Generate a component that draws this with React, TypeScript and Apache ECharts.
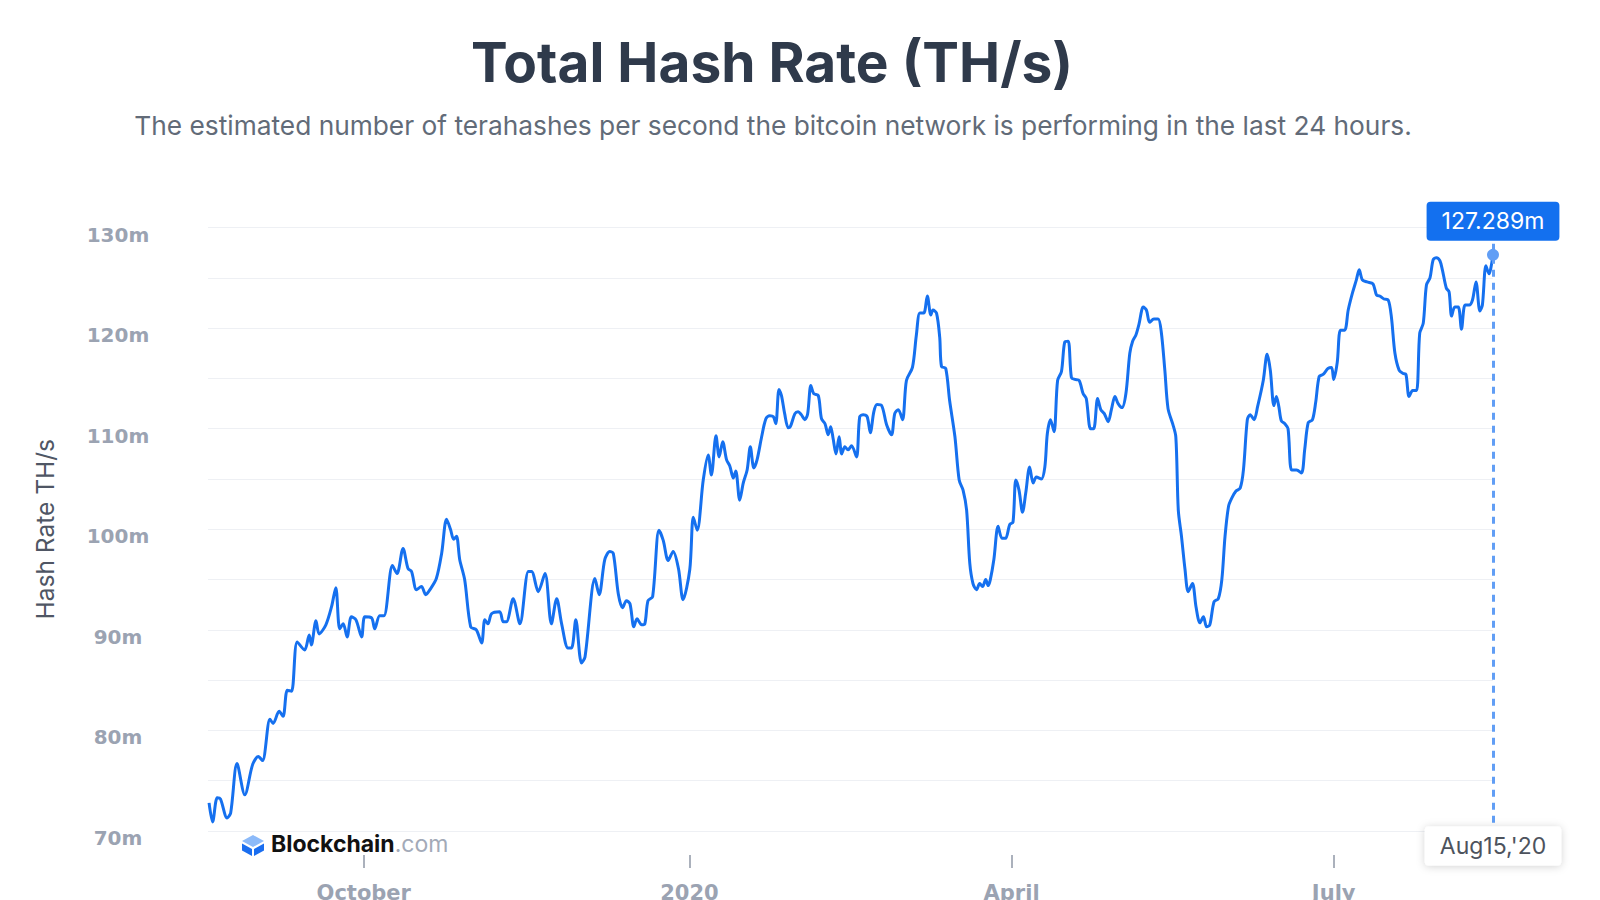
import React, { useEffect, useRef } from "react";
import * as echarts from "echarts";

// Days since 2019-08-18 (UTC) and hash rate in millions of TH/s
const START_DATE = Date.UTC(2019, 7, 18);
const END_DAY = 363; // Aug 15, 2020

const dayOffsets: number[] = [
  0.3, 1.3, 2.6, 3.5, 5.4, 6.4, 8.2, 10.4, 12.6, 14.2, 15.4, 17.5, 18.4, 20.1, 21.2, 22.4, 23.6, 25.2, 27.3, 28.6,
  29.2, 30.5, 31.4, 33.3, 34.9, 36.1, 37.2, 38.2, 39.3, 40.5, 41.8, 43.4, 44.3, 46.2, 47.1, 48.5, 49.7, 52.1, 53.4, 55.1,
  56.5, 57.5, 58.9, 60.3, 61.5, 62.7, 64.5, 66.0, 67.4, 68.5, 69.4, 70.2, 71.1, 72.5, 74.2, 75.8, 77.3, 78.2, 79.1, 80.1,
  82.4, 83.4, 84.3, 86.2, 88.1, 90.5, 91.4, 93.3, 95.2, 97.0, 98.5, 99.9, 101.7, 102.7, 103.9, 105.5, 106.5, 109.3, 110.5, 112.1,
  113.5, 114.5, 115.9, 117.1, 118.2, 119.2, 120.3, 121.2, 122.5, 123.4, 124.3, 125.6, 127.4, 128.6, 130.0, 131.4, 132.9, 134.2, 136.1, 137.1,
  138.2, 139.9, 141.3, 142.2, 143.5, 144.4, 145.4, 146.5, 147.4, 148.4, 149.1, 150.2, 151.2, 152.3, 153.2, 154.2, 155.1, 156.4, 157.6, 158.7,
  159.7, 160.4, 161.3, 162.0, 162.9, 163.9, 164.5, 165.8, 166.7, 167.6, 168.6, 169.4, 170.3, 171.1, 172.4, 173.3, 174.3, 175.2, 175.9, 176.6,
  177.4, 178.3, 179.0, 179.9, 180.8, 181.8, 183.2, 184.1, 185.1, 186.2, 187.1, 188.1, 189.0, 190.3, 191.7, 193.1, 194.0, 195.0, 196.2, 197.3,
  199.0, 200.1, 201.1, 202.2, 203.2, 204.2, 204.8, 205.8, 206.7, 207.2, 208.4, 209.5, 211.0, 212.2, 213.3, 214.3, 215.2, 216.1, 217.1, 218.0,
  218.8, 219.7, 220.4, 221.0, 222.0, 223.2, 224.3, 225.3, 226.5, 227.4, 228.2, 229.1, 230.1, 231.0, 232.1, 233.1, 234.0, 235.4, 236.4, 237.1,
  238.0, 239.0, 240.0, 241.1, 242.0, 243.0, 243.9, 244.9, 246.1, 247.2, 248.1, 249.3, 250.2, 251.3, 252.2, 253.2, 254.3, 255.2, 256.2, 257.1,
  258.2, 259.3, 260.4, 261.2, 262.1, 263.0, 264.2, 265.1, 266.0, 267.2, 268.4, 269.3, 270.3, 271.2, 272.5, 273.4, 274.1, 275.0, 276.0, 276.9,
  278.1, 279.1, 280.2, 281.2, 282.1, 283.0, 284.2, 285.4, 286.4, 287.3, 288.3, 289.2, 290.4, 291.6, 292.5, 293.6, 294.4, 295.5, 296.5, 298.1,
  299.2, 300.1, 301.1, 301.8, 302.5, 303.2, 304.2, 305.1, 306.1, 307.5, 308.9, 309.8, 310.8, 312.0, 312.9, 313.9, 315.0, 316.4, 317.4, 318.0,
  319.0, 319.9, 321.1, 322.1, 323.3, 324.4, 325.2, 326.1, 327.4, 329.1, 330.1, 331.0, 332.2, 333.4, 334.3, 335.3, 336.5, 337.6, 338.4, 339.3,
  340.3, 341.4, 342.3, 343.3, 344.2, 345.2, 346.1, 347.0, 348.0, 348.7, 349.8, 350.6, 351.3, 352.2, 353.2, 354.1, 355.1, 356.3, 357.2, 358.2,
  359.3, 360.0, 361.0, 361.9, 362.4, 363.0,
];

const hashRate: number[] = [
  72.8, 70.9, 73.3, 73.2, 71.3, 71.8, 76.7, 73.6, 76.6, 77.4, 77.0, 81.1, 80.7, 81.9, 81.4, 84.0, 83.9, 88.8, 88.0, 89.5,
  88.5, 90.9, 89.6, 90.5, 92.3, 94.2, 90.1, 90.6, 89.3, 91.3, 91.0, 89.3, 91.3, 91.2, 90.1, 91.4, 91.4, 96.4, 95.6, 98.1,
  96.1, 95.8, 94.0, 94.3, 93.5, 94.0, 95.1, 97.6, 101.0, 100.0, 99.0, 99.3, 97.0, 95.0, 90.3, 90.0, 88.7, 91.0, 90.6, 91.6,
  91.8, 90.8, 90.8, 93.1, 90.6, 95.8, 95.8, 93.8, 95.6, 90.6, 93.1, 90.6, 88.2, 88.2, 91.0, 86.7, 87.3, 95.1, 93.5, 97.0,
  97.8, 97.6, 93.6, 92.2, 92.9, 92.6, 90.3, 91.1, 90.5, 90.6, 92.9, 93.3, 99.9, 98.9, 96.9, 97.8, 96.1, 93.0, 96.0, 101.2,
  99.9, 104.9, 107.4, 105.4, 109.3, 107.2, 108.7, 106.9, 106.3, 105.1, 105.8, 102.9, 104.6, 105.9, 108.2, 106.1, 106.9, 109.2, 111.0, 111.3,
  111.2, 110.5, 113.9, 113.3, 111.5, 110.1, 110.2, 111.5, 111.7, 111.4, 110.9, 111.5, 114.3, 113.5, 113.3, 111.0, 110.5, 109.4, 110.2, 109.0,
  107.5, 109.2, 107.5, 108.2, 107.9, 108.3, 107.2, 111.2, 111.4, 111.2, 109.6, 111.7, 112.4, 112.3, 110.4, 109.4, 111.5, 111.9, 110.9, 114.8,
  116.1, 119.3, 121.5, 121.5, 123.2, 121.3, 121.8, 121.5, 119.1, 116.2, 116.0, 112.8, 109.2, 104.9, 103.9, 101.9, 96.6, 94.6, 94.0, 94.6,
  94.3, 95.0, 94.4, 95.0, 97.0, 100.3, 99.1, 99.1, 100.5, 100.7, 104.9, 103.9, 101.7, 103.6, 106.2, 104.6, 105.2, 105.0, 106.2, 109.5,
  110.9, 109.7, 114.8, 115.7, 118.6, 118.7, 115.1, 114.9, 114.8, 113.5, 113.0, 110.0, 110.0, 113.0, 111.9, 111.5, 110.7, 111.9, 113.2, 112.5,
  112.1, 113.5, 117.5, 118.7, 119.3, 120.4, 122.1, 121.8, 120.6, 120.9, 120.9, 119.6, 115.8, 112.0, 110.5, 109.2, 101.9, 99.3, 96.0, 93.8,
  94.6, 92.3, 90.7, 91.3, 90.3, 90.5, 92.8, 93.1, 95.0, 99.3, 102.3, 103.1, 103.8, 104.1, 105.9, 110.9, 111.4, 110.9, 112.2, 114.8,
  117.4, 115.8, 112.3, 113.2, 112.2, 110.8, 110.5, 110.0, 105.9, 105.9, 105.6, 107.9, 110.6, 110.9, 112.6, 115.2, 115.4, 116.0, 116.1, 114.9,
  116.6, 119.8, 119.8, 121.8, 123.5, 124.8, 125.8, 124.8, 124.6, 124.4, 123.3, 123.2, 122.9, 122.8, 121.1, 117.5, 115.8, 115.5, 115.4, 113.2,
  113.8, 113.8, 119.5, 120.5, 124.3, 125.0, 126.8, 127.0, 126.7, 125.8, 124.0, 123.6, 121.2, 122.1, 122.1, 119.9, 122.3, 122.3, 122.8, 124.6,
  121.7, 122.3, 126.2, 125.4, 126.0, 127.289,
];

// x-axis tick labels (first day of the month they mark)
const tickDates: number[] = [
  Date.UTC(2019, 9, 1),
  Date.UTC(2020, 0, 1),
  Date.UTC(2020, 3, 1),
  Date.UTC(2020, 6, 1),
];
const tickLabels: string[] = ["October", "2020", "April", "July"];

const yTickValues: number[] = [70, 80, 90, 100, 110, 120, 130];

const TITLE = "Total Hash Rate (TH/s)";
const SUBTITLE =
  "The estimated number of terahashes per second the bitcoin network is performing in the last 24 hours.";
const Y_NAME = "Hash Rate TH/s";

const DAY = 86400000;
const MONTHS = ["Jan", "Feb", "Mar", "Apr", "May", "Jun", "Jul", "Aug", "Sep", "Oct", "Nov", "Dec"];
const FONT = "Inter, 'Noto Sans', sans-serif";
const AXIS_FONT = "'DejaVu Sans', Verdana, sans-serif";

export default function App() {
  const ref = useRef<HTMLDivElement>(null);

  useEffect(() => {
    if (!ref.current) return;
    const chart = echarts.init(ref.current, undefined, { renderer: "svg" });

    const data = dayOffsets.map((d, i) => [START_DATE + d * DAY, hashRate[i]]);
    const lastT = START_DATE + END_DAY * DAY;
    const lastV = hashRate[hashRate.length - 1];
    const ld = new Date(lastT);
    const lastLabel = `${MONTHS[ld.getUTCMonth()]}${ld.getUTCDate()},'${String(ld.getUTCFullYear()).slice(2)}`;

    chart.setOption({
      animation: false,
      backgroundColor: "#ffffff",
      textStyle: { fontFamily: FONT },
      grid: { left: 208, right: 107, top: 227.6, bottom: 69, containLabel: false, outerBoundsMode: "none" },
      xAxis: {
        type: "value",
        min: START_DATE,
        max: lastT,
        offset: 24,
        axisLine: { show: false },
        axisTick: {
          show: true,
          length: 13,
          customValues: tickDates,
          lineStyle: { color: "#8f97a6", width: 1.5 },
        },
        axisLabel: {
          customValues: tickDates,
          margin: 27,
          fontSize: 21,
          fontWeight: "bold",
          color: "#9ba3b2",
          fontFamily: AXIS_FONT,
          formatter: (v: number) => {
            const idx = tickDates.findIndex((t) => Math.abs(t - v) < DAY / 2);
            return idx >= 0 ? tickLabels[idx] : "";
          },
        },
        splitLine: { show: false },
      },
      yAxis: {
        type: "value",
        min: 70,
        max: 130,
        interval: 5,
        name: Y_NAME,
        nameLocation: "middle",
        nameGap: 151,
        nameRotate: 90,
        nameTextStyle: { fontFamily: FONT, fontSize: 24.5, color: "#4f5664" },
        axisLine: { show: false },
        axisTick: { show: false },
        axisLabel: {
          margin: 90,
          align: "center",
          verticalAlign: "top",
          lineHeight: 14,
          fontSize: 20,
          fontWeight: "bold",
          color: "#9ba3b2",
          fontFamily: AXIS_FONT,
          formatter: (v: number) => (yTickValues.indexOf(v) >= 0 ? `${v}m` : ""),
        },
        splitLine: { show: true, lineStyle: { color: "#eef0f4", width: 1 } },
      },
      series: [
        {
          type: "line",
          data,
          showSymbol: false,
          smooth: 0.3,
          lineStyle: { color: "#1570ef", width: 3 },
          itemStyle: { color: "#1570ef" },
          markLine: {
            silent: true,
            symbol: ["none", "none"],
            label: { show: false },
            lineStyle: { type: [7, 6], width: 3, color: "#619ef5" },
            data: [[{ coord: [lastT, 128.4] }, { coord: [lastT, 70.7] }]],
          },
          markPoint: {
            silent: true,
            data: [
              {
                coord: [lastT, lastV],
                value: lastV,
                symbol: "circle",
                symbolSize: 12,
                itemStyle: { color: "#619ef5" },
                label: {
                  show: true,
                  position: "top",
                  distance: 8,
                  formatter: `${lastV.toFixed(3)}m`,
                  color: "#ffffff",
                  fontFamily: FONT,
                  fontSize: 23,
                  fontWeight: 400,
                  backgroundColor: "#1370ef",
                  padding: [8, 15, 8, 15],
                  borderRadius: 4,
                },
              },
              {
                coord: [lastT, 70],
                value: 70,
                symbol: "circle",
                symbolSize: 1,
                itemStyle: { color: "rgba(0,0,0,0)" },
                label: {
                  show: true,
                  position: "inside",
                  offset: [0, 15],
                  formatter: lastLabel,
                  color: "#4d535d",
                  fontFamily: FONT,
                  fontSize: 23,
                  fontWeight: 400,
                  backgroundColor: "#ffffff",
                  padding: [8, 15, 8, 15],
                  borderRadius: 4,
                  shadowBlur: 8,
                  shadowColor: "rgba(0,0,0,0.18)",
                  shadowOffsetY: 1,
                },
              },
            ],
          },
        },
      ],
      graphic: [
        {
          type: "text",
          x: 772,
          y: 62,
          style: {
            text: TITLE,
            align: "center",
            verticalAlign: "middle",
            fontFamily: FONT,
            fontSize: 55,
            fontWeight: 700,
            fill: "#2f3a4b",
          },
        },
        {
          type: "text",
          x: 773,
          y: 125.5,
          style: {
            text: SUBTITLE,
            align: "center",
            verticalAlign: "middle",
            fontFamily: FONT,
            fontSize: 26.3,
            fontWeight: 400,
            fill: "#626b78",
          },
        },
        {
          type: "polygon",
          shape: { points: [[253, 835], [264, 841], [253, 847], [242, 841]] },
          style: { fill: "#8cbaf9" },
        },
        {
          type: "polygon",
          shape: { points: [[242, 843.5], [252, 849], [252, 856], [242, 850.5]] },
          style: { fill: "#1a6ef0" },
        },
        {
          type: "polygon",
          shape: { points: [[254, 849], [264, 843.5], [264, 850.5], [254, 856]] },
          style: { fill: "#1a6ef0" },
        },
        {
          type: "text",
          x: 271,
          y: 844,
          style: {
            text: "{a|Blockchain}{b|.com}",
            verticalAlign: "middle",
            rich: {
              a: { fontFamily: FONT, fontSize: 23, fontWeight: 700, fill: "#111111" },
              b: { fontFamily: FONT, fontSize: 23, fontWeight: 400, fill: "#a3aab8" },
            },
          },
        },
      ],
    });

    return () => chart.dispose();
  }, []);

  return (
    <div
      ref={ref}
      style={{ position: "fixed", left: 0, top: 0, width: 1600, height: 900, background: "#fff" }}
    />
  );
}
